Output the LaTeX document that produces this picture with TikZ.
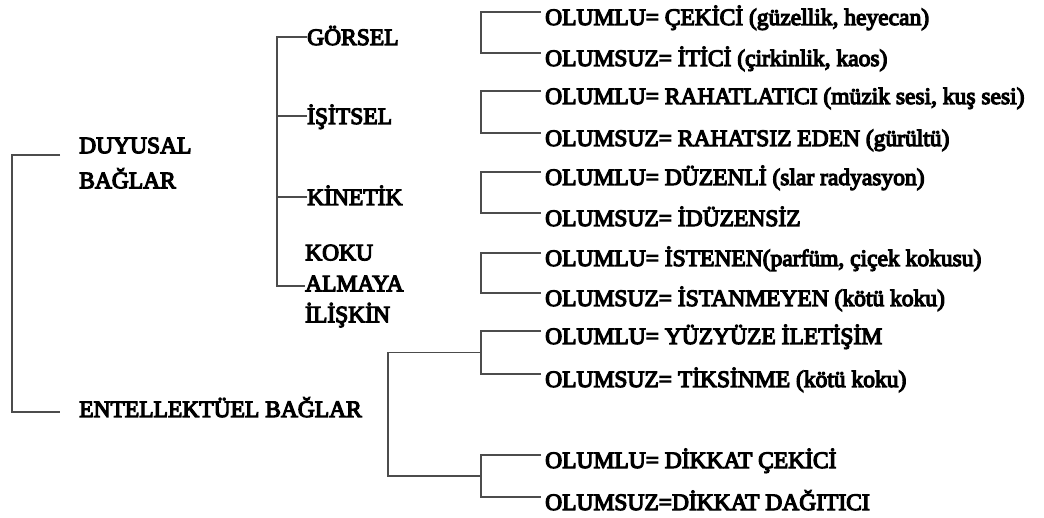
\documentclass[tikz,border=0pt]{standalone}
\usepackage{fontspec}
\setmainfont{Liberation Serif}[FakeBold=5]
\usetikzlibrary{calc}

\begin{document}
\begin{tikzpicture}[x=1pt,y=-1pt,
		every node/.style={font=\fontsize{23.5}{31}\selectfont, inner sep=0pt},
		leaf/.style={anchor=base west, inner xsep=4pt, text height=26pt, text depth=0pt},
		sense/.style={anchor=base west, text height=16pt, text depth=0pt},
		link/.style={draw=black!70, line width=1.2pt}]
	\useasboundingbox (0,0) rectangle (1044,518);
	% main groups
	\node[align=left, anchor=west, font=\fontsize{23.5}{35}\selectfont] (duyusal) at (79,163) {DUYUSAL\\BAĞLAR};
	\node[anchor=base west] (entel) at (79,417) {ENTELLEKTÜEL BAĞLAR};
	\coordinate (d_end) at (60,155);
	\coordinate (e_end) at (60,412);
	% senses
	\node[sense] (gorsel) at (307,45) {GÖRSEL};
	\node[sense] (isitsel) at (307,124) {İŞİTSEL};
	\node[sense] (kinetik) at (307,205) {KİNETİK};
	\node[align=left, anchor=west] (koku) at (305,286) {KOKU\\ALMAYA\\İLİŞKİN};
	% leaves
	\node[leaf] (o_1) at (541,25) {OLUMLU= ÇEKİCİ (güzellik, heyecan)};
	\node[leaf] (o_2) at (541,66) {OLUMSUZ= İTİCİ (çirkinlik, kaos)};
	\node[leaf] (o_3) at (541,104) {OLUMLU= RAHATLATICI (müzik sesi, kuş sesi)};
	\node[leaf] (o_4) at (541,146) {OLUMSUZ= RAHATSIZ EDEN (gürültü)};
	\node[leaf] (o_5) at (541,185) {OLUMLU= DÜZENLİ (slar radyasyon)};
	\node[leaf] (o_6) at (541,226) {OLUMSUZ= İDÜZENSİZ};
	\node[leaf] (o_7) at (541,266) {OLUMLU= İSTENEN(parfüm, çiçek kokusu)};
	\node[leaf] (o_8) at (541,306) {OLUMSUZ= İSTANMEYEN (kötü koku)};
	\node[leaf] (o_9) at (541,344) {OLUMLU= YÜZYÜZE İLETİŞİM};
	\node[leaf] (o_10) at (541,387) {OLUMSUZ= TİKSİNME (kötü koku)};
	\node[leaf] (o_11) at (541,468) {OLUMLU= DİKKAT ÇEKİCİ};
	\node[leaf] (o_12) at (541,510) {OLUMSUZ=DİKKAT DAĞITICI};
	\coordinate (m_5) at ($(o_9.west)!.5!(o_10.west)+(-60,0)$);
	\coordinate (m_6) at ($(o_11.west)!.5!(o_12.west)+(-60,0)$);
	% brackets
	\draw[link] (d_end) -- ++(-48,0) |- (e_end);
	\draw[link] (gorsel.west) -- ++(-30,0) |- (koku.west);
	\draw[link] (isitsel.west) -- ++(-30,0);
	\draw[link] (kinetik.west) -- ++(-30,0);
	\draw[link] (o_1.west) -- ++(-60,0) |- (o_2.west);
	\draw[link] (o_3.west) -- ++(-60,0) |- (o_4.west);
	\draw[link] (o_5.west) -- ++(-60,0) |- (o_6.west);
	\draw[link] (o_7.west) -- ++(-60,0) |- (o_8.west);
	\draw[link] (o_9.west) -- ++(-60,0) |- (o_10.west);
	\draw[link] (o_11.west) -- ++(-60,0) |- (o_12.west);
	\draw[link] (m_5) -- ++(-93,0) |- (m_6);
\end{tikzpicture}
\end{document}
